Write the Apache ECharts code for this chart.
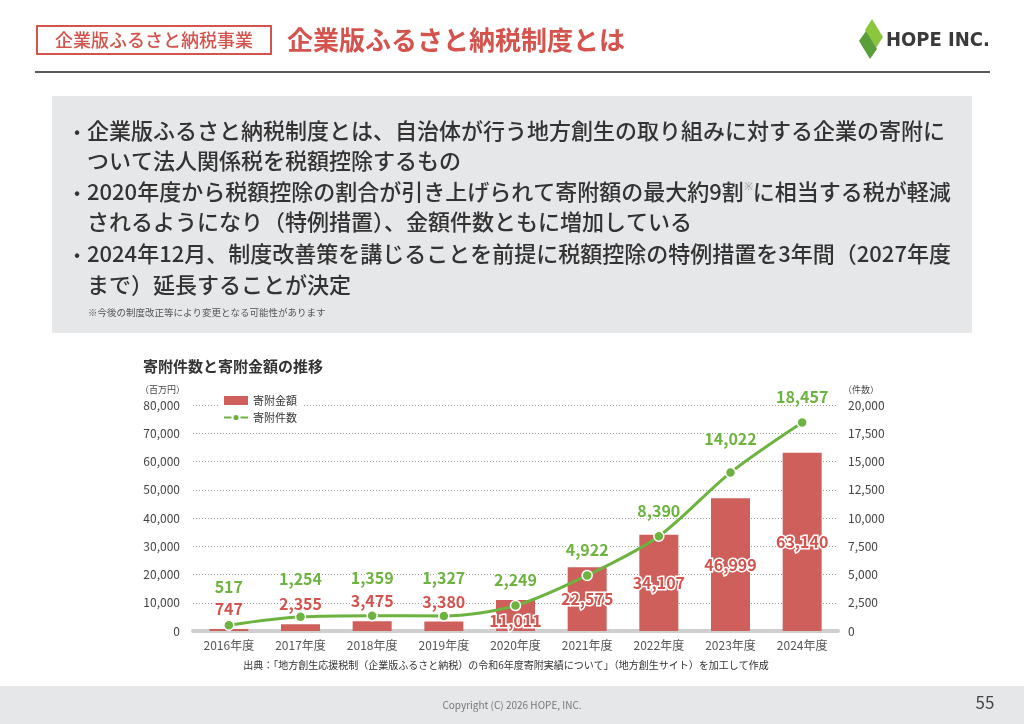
<!DOCTYPE html>
<html lang="ja">
<head>
    <meta charset="UTF-8">
    <title>企業版ふるさと納税制度とは</title>
    <script src="https://cdn.jsdelivr.net/npm/echarts@6/dist/echarts.min.js"></script>
    <style>
        html, body { margin: 0; padding: 0; background: #fff; }
        #container { width: 1024px; height: 724px; }
    </style>
</head>
<body>
<div id="container"></div>
<script>
    // データ
    const years = ['2016年度', '2017年度', '2018年度', '2019年度', '2020年度', '2021年度', '2022年度', '2023年度', '2024年度'];
    const amounts = [747, 2355, 3475, 3380, 11011, 22575, 34107, 46999, 63140];   // 寄附金額（百万円）
    const counts = [517, 1254, 1359, 1327, 2249, 4922, 8390, 14022, 18457];      // 寄附件数（件数）
    const amountTicks = [0, 80000, 10000];
    const countTicks = [0, 20000, 2500];

    const bullets = [
        ['•', '企業版ふるさと納税制度とは、自治体が行う地方創生の取り組みに対する企業の寄附に'],
        ['', 'ついて法人関係税を税額控除するもの'],
        ['•', '2020年度から税額控除の割合が引き上げられて寄附額の最大約9割{sup|※}に相当する税が軽減'],
        ['', 'されるようになり（特例措置）、金額件数ともに増加している'],
        ['•', '2024年12月、制度改善策を講じることを前提に税額控除の特例措置を3年間（2027年度'],
        ['', 'まで）延長することが決定']
    ];

    const RED = '#cf5f5a';
    const LABEL_RED = '#d4534d';
    const GREEN = '#6db33f';
    const FONT = '"Noto Sans CJK JP", "Noto Sans", sans-serif';
    const fmt = v => Number(v).toLocaleString('en-US');

    const dom = document.getElementById('container');
    const myChart = echarts.init(dom, null, { renderer: 'canvas' });

    // 小さい棒は上にラベル、大きい棒は中にラベル
    const barData = amounts.map((v) => {
        const small = v < 10000;
        return {
            value: v,
            label: small ? { position: 'top', distance: 12 } : { position: 'inside', offset: [0, v < 15000 ? 5 : 0] }
        };
    });
    const lineData = counts.map((v, i) => {
        let d = 12;
        if (amounts[i] < 10000) d = 24;
        if (i === 7) d = 20;
        return { value: v, label: { distance: d } };
    });

    const graphics = [
        // タグ
        { type: 'rect', shape: { x: 37, y: 26, width: 234, height: 28 }, style: { fill: '#fff', stroke: '#d4534d', lineWidth: 2 } },
        { type: 'text', x: 154, y: 40, style: { text: '企業版ふるさと納税事業', font: '500 18px ' + FONT, fill: '#d4534d', align: 'center', verticalAlign: 'middle' } },
        { type: 'text', x: 287, y: 40, style: { text: '企業版ふるさと納税制度とは', font: 'bold 26px ' + FONT, fill: '#d4534d', verticalAlign: 'middle' } },
        // ロゴ
        { type: 'polygon', shape: { points: [[872, 19], [883, 37], [876, 48], [865, 30]] }, style: { fill: '#8cc63f' } },
        { type: 'polygon', shape: { points: [[866, 31], [877, 49], [870, 59], [859, 41]] }, style: { fill: '#5a9e3a' } },
        { type: 'text', x: 886, y: 41, style: { text: 'HOPE INC.', font: 'bold 20px "DejaVu Sans Condensed", Roboto, sans-serif', fill: '#3a3a3a', verticalAlign: 'middle' } },
        // 区切り線
        { type: 'line', shape: { x1: 35, y1: 72, x2: 990, y2: 72 }, style: { stroke: '#5a5a5a', lineWidth: 2 } },
        // 説明ボックス
        { type: 'rect', shape: { x: 52, y: 96, width: 920, height: 237 }, style: { fill: '#e6e7e9' } },
        { type: 'text', x: 88, y: 312, style: { text: '※今後の制度改正等により変更となる可能性があります', font: '9.5px ' + FONT, fill: '#555', verticalAlign: 'middle' } },
        // グラフタイトル
        { type: 'text', x: 143, y: 366, style: { text: '寄附件数と寄附金額の推移', font: 'bold 15px ' + FONT, fill: '#333', verticalAlign: 'middle' } },
        { type: 'text', x: 140, y: 390, style: { text: '（百万円）', font: '9px ' + FONT, fill: '#444', verticalAlign: 'middle' } },
        { type: 'text', x: 843, y: 390, style: { text: '（件数）', font: '9px ' + FONT, fill: '#444', verticalAlign: 'middle' } },
        // 出典
        { type: 'text', x: 506, y: 665, style: { text: '出典：「地方創生応援税制（企業版ふるさと納税）の令和6年度寄附実績について」（地方創生サイト）を加工して作成', font: '10px ' + FONT, fill: '#333', align: 'center', verticalAlign: 'middle' } },
        // フッター
        { type: 'rect', shape: { x: 0, y: 686, width: 1024, height: 38 }, style: { fill: '#e6e7e9' } },
        { type: 'text', x: 512, y: 705, style: { text: 'Copyright (C) 2026 HOPE, INC.', font: '10px ' + FONT, fill: '#777', align: 'center', verticalAlign: 'middle' } },
        { type: 'text', x: 985, y: 703, style: { text: '55', font: '17px ' + FONT, fill: '#444', align: 'center', verticalAlign: 'middle' } }
    ];
    const lineY = [131, 161, 192, 222, 254, 285];
    bullets.forEach((b, i) => {
        if (b[0]) {
            graphics.push({ type: 'text', x: 74, y: lineY[i], style: { text: b[0], font: '18px ' + FONT, fill: '#333', verticalAlign: 'middle' } });
        }
        graphics.push({
            type: 'text', x: 87, y: lineY[i],
            style: {
                text: b[1], font: '500 22px ' + FONT, fill: '#333', verticalAlign: 'middle',
                rich: { sup: { fontSize: 11, fill: '#999', verticalAlign: 'top', padding: [0, 0, 10, 0] } }
            }
        });
    });

    const option = {
        backgroundColor: '#fff',
        animation: false,
        textStyle: { fontFamily: FONT },
        graphic: graphics,
        legend: {
            orient: 'vertical',
            left: 219,
            top: 393,
            itemWidth: 24,
            itemHeight: 9,
            itemGap: 6,
            padding: [2, 6, 2, 4],
            backgroundColor: '#fff',
            textStyle: { fontSize: 11, color: '#333' },
            data: [
                { name: '寄附金額', icon: 'rect' },
                { name: '寄附件数' }
            ]
        },
        grid: { left: 193, right: 186, top: 405, bottom: 93 },
        xAxis: {
            type: 'category',
            data: years,
            axisTick: { show: false },
            axisLine: { lineStyle: { color: '#cfcfcf', width: 4 } },
            axisLabel: { color: '#555', fontSize: 12, margin: 8 }
        },
        yAxis: [
            {
                type: 'value',
                min: amountTicks[0], max: amountTicks[1], interval: amountTicks[2],
                axisLine: { show: false },
                axisTick: { show: false },
                axisLabel: { color: '#444', fontSize: 12, margin: 13, formatter: fmt },
                splitLine: { lineStyle: { color: '#999', type: [1, 2], width: 1 } }
            },
            {
                type: 'value',
                min: countTicks[0], max: countTicks[1], interval: countTicks[2],
                axisLine: { show: false },
                axisTick: { show: false },
                axisLabel: { color: '#444', fontSize: 12, margin: 10, formatter: fmt },
                splitLine: { show: false }
            }
        ],
        series: [
            {
                name: '寄附金額',
                type: 'bar',
                data: barData,
                barWidth: 39,
                itemStyle: { color: RED },
                label: {
                    show: true,
                    formatter: p => fmt(p.value),
                    color: LABEL_RED,
                    fontSize: 16,
                    fontWeight: 'bold',
                    textBorderColor: '#fff',
                    textBorderWidth: 3
                },
                z: 2
            },
            {
                name: '寄附件数',
                type: 'line',
                yAxisIndex: 1,
                data: lineData,
                smooth: 0.3,
                symbol: 'circle',
                symbolSize: 10,
                lineStyle: { color: GREEN, width: 3 },
                itemStyle: { color: GREEN, borderColor: '#fff', borderWidth: 1.5 },
                label: {
                    show: true,
                    position: 'top',
                    formatter: p => fmt(p.value),
                    color: GREEN,
                    fontSize: 16,
                    fontWeight: 'bold',
                    textBorderColor: '#fff',
                    textBorderWidth: 3
                },
                z: 3
            }
        ]
    };

    myChart.setOption(option);
    window.addEventListener('resize', myChart.resize);
</script>
</body>
</html>
